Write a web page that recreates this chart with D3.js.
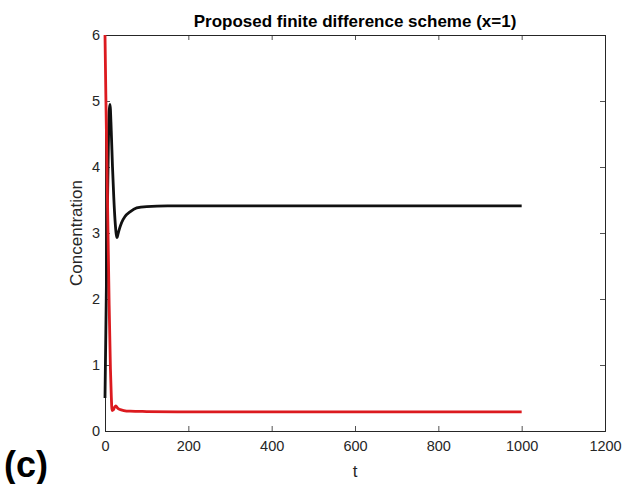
<!DOCTYPE html>
<html>
<head>
<meta charset="utf-8">
<script src="https://cdn.jsdelivr.net/npm/d3@7"></script>
<style>
  html, body { margin: 0; padding: 0; background: #fff; }
  svg { display: block; font-family: "Liberation Sans", Arial, Helvetica, sans-serif; }
</style>
</head>
<body>
<svg id="chart" width="627" height="484"></svg>
<script>
// Concentration profiles at x = 1 (finite difference scheme)
const tBlack = [0, 2, 5, 8, 10, 12, 15, 18, 21, 24, 27, 29, 31, 35, 40, 48, 60, 76, 100, 150, 250, 1000];
const cBlack = [0.5, 1.5, 3.0, 4.3, 4.85, 4.95, 4.55, 4.0, 3.55, 3.2, 2.98, 2.93, 2.98, 3.07, 3.16, 3.25, 3.32, 3.38, 3.40, 3.41, 3.41, 3.41];

const tRed = [0, 2, 4, 7, 10, 13, 15, 17, 20, 23, 26, 30, 36, 45, 60, 100, 200, 1000];
const cRed = [6.0, 5.1, 4.3, 3.1, 1.9, 0.95, 0.55, 0.31, 0.32, 0.36, 0.38, 0.35, 0.325, 0.31, 0.30, 0.295, 0.29, 0.29];

const xTicks = [0, 200, 400, 600, 800, 1000, 1200];
const yTicks = [0, 1, 2, 3, 4, 5, 6];

const title = "Proposed finite difference scheme (x=1)";
const xLabel = "t";
const yLabel = "Concentration";
const panelTag = "(c)";

const margin = { left: 105, top: 35, right: 22, bottom: 53 };
const W = 627, H = 484;
const iw = W - margin.left - margin.right;
const ih = H - margin.top - margin.bottom;

const svg = d3.select("#chart");
const g = svg.append("g").attr("transform", `translate(${margin.left},${margin.top})`);

const x = d3.scaleLinear().domain([0, 1200]).range([0, iw]);
const y = d3.scaleLinear().domain([0, 6]).range([ih, 0]);

const axisColor = "#262626";
const tickLen = 5;

// Bottom and left axes with inward ticks
const xAxis = g.append("g").attr("transform", `translate(0,${ih})`)
  .call(d3.axisBottom(x).tickValues(xTicks).tickSize(-tickLen).tickPadding(10).tickFormat(d3.format("d")));
const yAxis = g.append("g")
  .call(d3.axisLeft(y).tickValues(yTicks).tickSize(-tickLen).tickPadding(5).tickFormat(d3.format("d")));

// Top and right box edges with matching ticks
const xTop = g.append("g")
  .call(d3.axisTop(x).tickValues(xTicks).tickSize(-tickLen).tickFormat(""));
const yRight = g.append("g").attr("transform", `translate(${iw},0)`)
  .call(d3.axisRight(y).tickValues(yTicks).tickSize(-tickLen).tickFormat(""));

[xAxis, yAxis, xTop, yRight].forEach(a => {
  a.selectAll("path.domain").attr("stroke", axisColor).attr("stroke-width", 1);
  a.selectAll(".tick line").attr("stroke", axisColor).attr("stroke-width", 0.8);
  a.selectAll(".tick text").attr("fill", axisColor).attr("font-size", 14.5)
    .attr("font-family", "'Liberation Sans', Arial, sans-serif");
});

g.append("clipPath").attr("id", "plotclip")
  .append("rect").attr("x", -2).attr("y", -2).attr("width", iw + 4).attr("height", ih + 4);

const line = d3.line().x(d => x(d[0])).y(d => y(d[1])).curve(d3.curveMonotoneX);

const plot = g.append("g").attr("clip-path", "url(#plotclip)");

plot.append("path")
  .datum(tBlack.map((t, i) => [t, cBlack[i]]))
  .attr("d", line)
  .attr("fill", "none")
  .attr("stroke", "#111111")
  .attr("stroke-width", 2.8)
  .attr("stroke-linejoin", "round");

plot.append("path")
  .datum(tRed.map((t, i) => [t, cRed[i]]))
  .attr("d", line)
  .attr("fill", "none")
  .attr("stroke", "#dc1a1f")
  .attr("stroke-width", 2.8)
  .attr("stroke-linejoin", "round");

// Title
svg.append("text")
  .attr("x", margin.left + iw / 2).attr("y", 27)
  .attr("text-anchor", "middle")
  .attr("font-size", 17).attr("font-weight", "bold").attr("fill", "#000")
  .text(title);

// Axis labels
svg.append("text")
  .attr("x", margin.left + iw / 2).attr("y", 477)
  .attr("text-anchor", "middle")
  .attr("font-size", 17).attr("fill", axisColor)
  .text(xLabel);

svg.append("text")
  .attr("transform", `translate(82,${margin.top + ih / 2}) rotate(-90)`)
  .attr("text-anchor", "middle")
  .attr("font-size", 17).attr("fill", axisColor)
  .text(yLabel);

// Panel tag
svg.append("text")
  .attr("x", 4).attr("y", 477)
  .attr("font-size", 36).attr("font-weight", "bold").attr("fill", "#000")
  .text(panelTag);
</script>
</body>
</html>
